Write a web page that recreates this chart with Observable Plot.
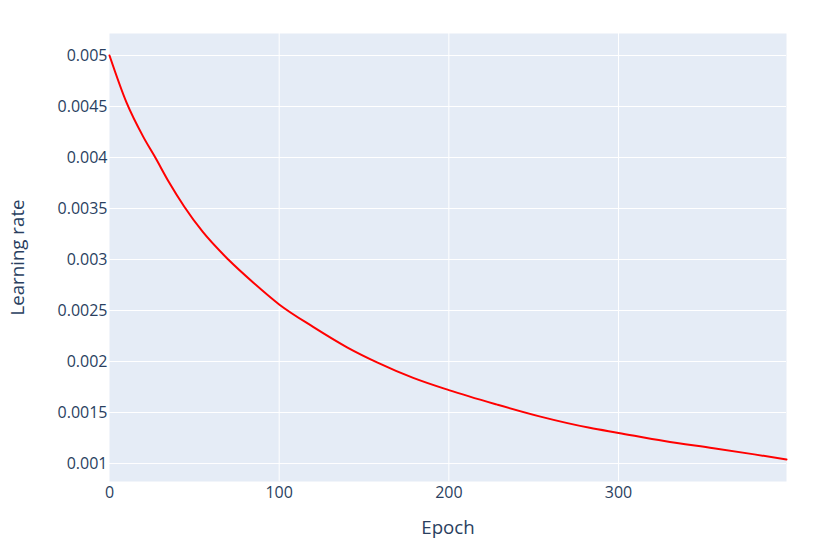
<!DOCTYPE html>
<html>
<head>
<meta charset="utf-8">
<script src="https://cdn.jsdelivr.net/npm/d3@7"></script>
<script src="https://cdn.jsdelivr.net/npm/@observablehq/plot@0.6"></script>
<style>
  html, body { margin: 0; padding: 0; background: #fff; }
  #chart svg { display: block; }
  [aria-label$="tick label"], [aria-label$="tick label"] text { font-size: 16px !important; }
</style>
</head>
<body>
<div id="chart"></div>
<script>
// Epoch values
const epochs = [0, 10, 20, 27, 35, 44, 55, 70, 85, 100, 120, 140, 158, 179, 200, 228, 254, 283, 300, 327, 356, 380, 399];
// Learning rate values
const learningRates = [0.00500, 0.00454, 0.00420, 0.00400, 0.00376, 0.00352, 0.00327, 0.00300, 0.00277, 0.00256, 0.00234, 0.00214, 0.00199, 0.00184, 0.00172, 0.00158, 0.00146, 0.00135, 0.00130, 0.00122, 0.00115, 0.00109, 0.00104];
const yTicks = [0.001, 0.0015, 0.002, 0.0025, 0.003, 0.0035, 0.004, 0.0045, 0.005];
const xTicks = [0, 100, 200, 300];
const xTitle = "Epoch";
const yTitle = "Learning rate";

const data = epochs.map((e, i) => ({epoch: e, lr: learningRates[i]}));

const font = '"Open Sans", verdana, arial, sans-serif';
const ink = "#2a3f5f";

const chart = Plot.plot({
  width: 813,
  height: 557,
  marginLeft: 109,
  marginRight: 27,
  marginTop: 33,
  marginBottom: 76,
  style: {fontFamily: font, fontSize: "16px", color: ink, background: "#fff"},
  x: {domain: [0, 399], ticks: xTicks, label: null},
  y: {domain: [0.000824, 0.005216], ticks: yTicks, label: null},
  marks: [
    Plot.frame({fill: "#E5ECF6", stroke: null}),
    Plot.gridX(xTicks.filter(d => d > 0), {stroke: "#fff", strokeOpacity: 1, strokeWidth: 1}),
    Plot.gridY(yTicks, {stroke: "#fff", strokeOpacity: 1, strokeWidth: 1}),
    Plot.axisX(xTicks, {tickSize: 0, tickPadding: 5, fontSize: 16, fill: ink, tickFormat: d => String(d)}),
    Plot.axisY(yTicks, {tickSize: 0, tickPadding: 2, fontSize: 16, fill: ink, tickFormat: d => String(+d.toFixed(6))}),
    Plot.line(data, {x: "epoch", y: "lr", stroke: "#ff0000", strokeWidth: 2, curve: "monotone-x"}),
    Plot.text([xTitle], {frameAnchor: "bottom", dy: 47, lineAnchor: "middle", textAnchor: "middle", fontSize: 18.7, fill: ink, text: d => d}),
    Plot.text([yTitle], {frameAnchor: "left", dx: -91, rotate: -90, lineAnchor: "middle", textAnchor: "middle", fontSize: 18.7, fill: ink, text: d => d})
  ]
});
document.getElementById("chart").appendChild(chart);
</script>
</body>
</html>
